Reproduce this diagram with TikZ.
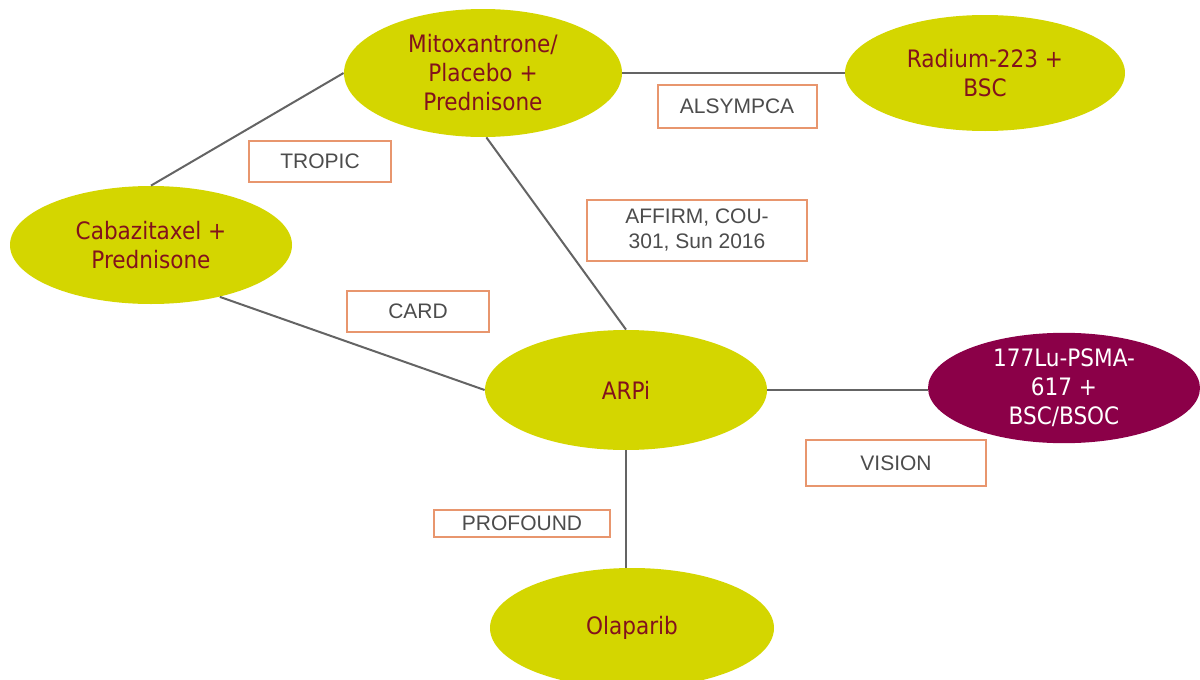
\documentclass[tikz,border=0pt]{standalone}
\usepackage{fontspec}
\setmainfont{Liberation Sans}
\newfontfamily\armfont{DejaVu Sans Condensed}
\usetikzlibrary{shapes.geometric}
\definecolor{armgreen}{RGB}{212,214,0}
\definecolor{armred}{RGB}{130,18,28}
\definecolor{lupurple}{RGB}{139,0,72}
\definecolor{boxorange}{RGB}{232,150,110}
\definecolor{edgegray}{RGB}{100,100,100}
\begin{document}
\begin{tikzpicture}[x=0.5pt,y=-0.5pt]
\tikzset{ArmStyle/.style ={ellipse, fill=armgreen, text=armred, inner sep=0pt,
  align=center, font=\armfont\fontsize{12}{14.5}\selectfont}}
\tikzset{TrialStyle/.style ={draw=boxorange, line width=1pt, fill=white, text=black!70,
  inner sep=0pt, align=center, font=\fontsize{10.5}{12.5}\selectfont}}
\tikzset{EdgeStyle/.style ={draw=edgegray, line width=1pt}}
\useasboundingbox (0,0) rectangle (1200,680);
\node[ArmStyle, minimum width=139pt, minimum height=64pt] (Mito) at (483,73) {Mitoxantrone/\\Placebo +\\Prednisone};
\node[ArmStyle, minimum width=140pt, minimum height=58pt] (Radium) at (985,73) {Radium-223 +\\BSC};
\node[ArmStyle, minimum width=141pt, minimum height=59pt] (Caba) at (151,245) {Cabazitaxel +\\Prednisone};
\node[ArmStyle, minimum width=141pt, minimum height=60pt] (ARPi) at (626,390) {ARPi};
\node[ArmStyle, fill=lupurple, text=white, minimum width=136pt, minimum height=54pt] (Lu) at (1064,388) {177Lu-PSMA-\\617 +\\BSC/BSOC};
\node[ArmStyle, minimum width=142pt, minimum height=60pt] (Olap) at (632,628) {Olaparib};
\draw[EdgeStyle] (Mito.west) -- (Caba.north);
\draw[EdgeStyle] (Mito.east) -- (Radium.west);
\draw[EdgeStyle] (Mito.-87) -- (ARPi.north);
\draw[EdgeStyle] (Caba.-37) -- (ARPi.west);
\draw[EdgeStyle] (ARPi.east) -- (ARPi.east -| Lu.west);
\draw[EdgeStyle] (ARPi.south) -- (ARPi.south |- Olap.north);
\node[TrialStyle, minimum width=71pt, minimum height=20.5pt] (TROPIC) at (320,161) {TROPIC};
\node[TrialStyle, minimum width=79.5pt, minimum height=21.5pt] (ALSYMPCA) at (737,106) {ALSYMPCA};
\node[TrialStyle, minimum width=110pt, minimum height=30.5pt] (AFFIRM) at (697,230) {AFFIRM, COU-\\301, Sun 2016};
\node[TrialStyle, minimum width=71pt, minimum height=20.5pt] (CARD) at (418,311) {CARD};
\node[TrialStyle, minimum width=90pt, minimum height=23pt] (VISION) at (896,463) {VISION};
\node[TrialStyle, minimum width=88pt, minimum height=13.5pt] (PROFOUND) at (522,523) {PROFOUND};
\end{tikzpicture}
\end{document}
